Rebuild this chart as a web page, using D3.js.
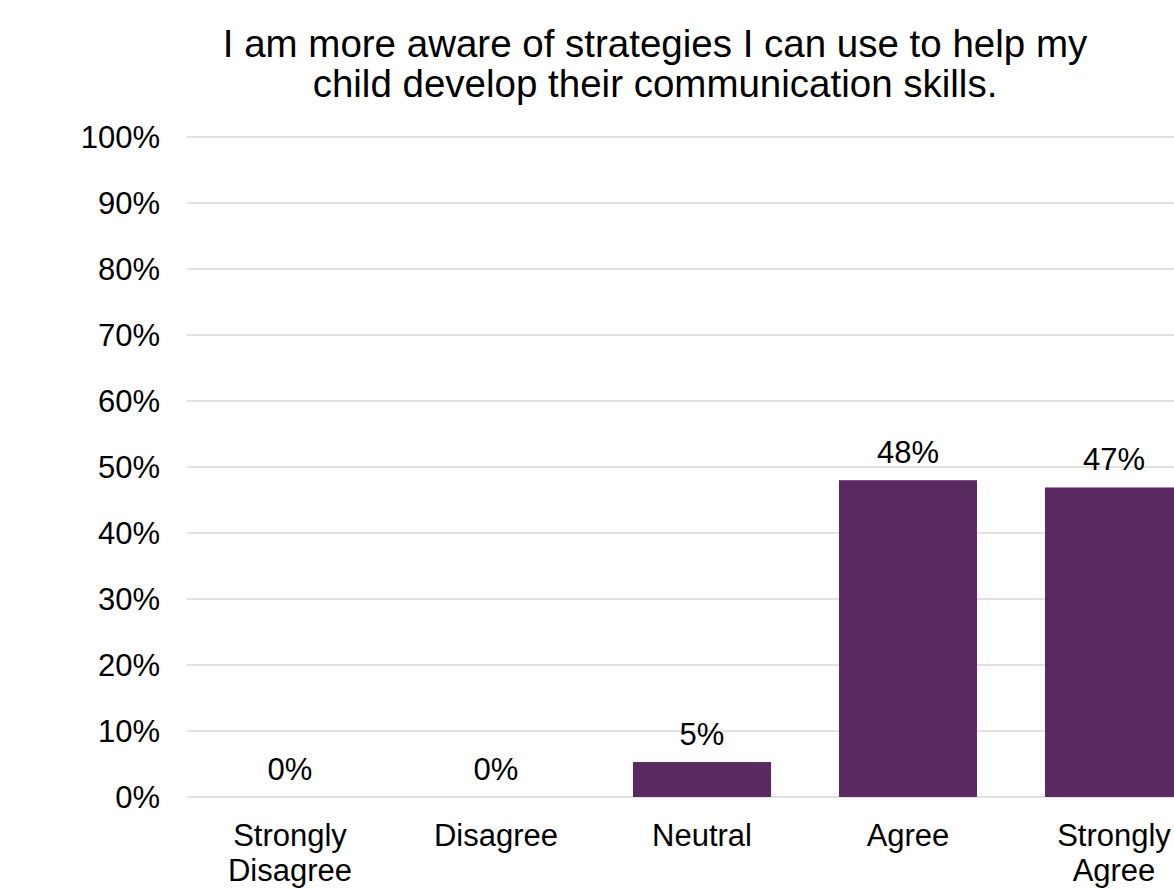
<!DOCTYPE html>
<html>
<head>
<meta charset="utf-8">
<script src="https://cdn.jsdelivr.net/npm/d3@7"></script>
<style>
  html, body { margin: 0; padding: 0; background: #fff; overflow: hidden; }
  svg { display: block; font-family: "Liberation Sans", Arial, sans-serif; }
</style>
</head>
<body>
<div id="chart"></div>
<script>
// Survey item: share of responses per answer
const titleLines = ['I am more aware of strategies I can use to help my', 'child develop their communication skills.'];
const categories = ['Strongly Disagree', 'Disagree', 'Neutral', 'Agree', 'Strongly Agree'];
const categoryLines = [['Strongly', 'Disagree'], ['Disagree'], ['Neutral'], ['Agree'], ['Strongly', 'Agree']];
const values = [0, 0, 5.3, 48.0, 46.9];
const valueLabels = ['0%', '0%', '5%', '48%', '47%'];
const yTicks = [0, 10, 20, 30, 40, 50, 60, 70, 80, 90, 100];

const width = 1174, height = 890;
const svg = d3.select('#chart').append('svg')
  .attr('width', width)
  .attr('height', height);

const x = d3.scaleBand()
  .domain(categories)
  .range([187, 1217])
  .paddingInner(0.33)
  .paddingOuter(0.165);
const y = d3.scaleLinear()
  .domain([0, 100])
  .range([797, 137]);

// gridlines
svg.append('g')
  .selectAll('line')
  .data(yTicks)
  .join('line')
  .attr('x1', 187)
  .attr('x2', 1217)
  .attr('y1', d => y(d))
  .attr('y2', d => y(d))
  .attr('stroke', '#d9d9d9')
  .attr('stroke-width', 1.5);

// y axis labels
svg.append('g')
  .selectAll('text')
  .data(yTicks)
  .join('text')
  .attr('x', 160)
  .attr('y', d => y(d))
  .attr('dy', '0.35em')
  .attr('text-anchor', 'end')
  .attr('font-size', 31)
  .attr('fill', '#000')
  .text(d => d + '%');

// bars
svg.append('g')
  .selectAll('rect')
  .data(values)
  .join('rect')
  .attr('x', (d, i) => x(categories[i]))
  .attr('y', d => y(d))
  .attr('width', x.bandwidth())
  .attr('height', d => y(0) - y(d))
  .attr('fill', '#5a2962');

// data labels
svg.append('g')
  .selectAll('text')
  .data(values)
  .join('text')
  .attr('x', (d, i) => x(categories[i]) + x.bandwidth() / 2)
  .attr('y', d => y(d) - 17)
  .attr('text-anchor', 'middle')
  .attr('font-size', 31)
  .attr('fill', '#000')
  .text((d, i) => valueLabels[i]);

// category labels
const cat = svg.append('g')
  .selectAll('text')
  .data(categories)
  .join('text')
  .attr('x', d => x(d) + x.bandwidth() / 2)
  .attr('y', 846)
  .attr('text-anchor', 'middle')
  .attr('font-size', 31)
  .attr('fill', '#000');
cat.selectAll('tspan')
  .data((d, i) => categoryLines[i])
  .join('tspan')
  .attr('x', function () { return d3.select(this.parentNode).attr('x'); })
  .attr('dy', (d, j) => j === 0 ? 0 : 35)
  .text(d => d);

// title
svg.append('g')
  .selectAll('text')
  .data(titleLines)
  .join('text')
  .attr('x', 655)
  .attr('y', (d, i) => 57 + i * 40)
  .attr('text-anchor', 'middle')
  .attr('font-size', 38.5)
  .attr('fill', '#000')
  .text(d => d);
</script>
</body>
</html>
